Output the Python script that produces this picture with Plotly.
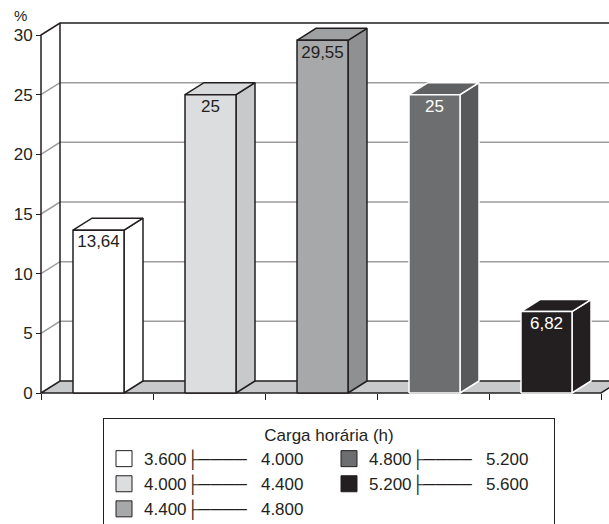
import plotly.graph_objects as go

# ---------------- data ----------------
classes = ["3.600", "4.000", "4.400", "4.800", "5.200", "5.600"]
percent = [13.64, 25, 29.55, 25, 6.82]
value_labels = ["13,64", "25", "29,55", "25", "6,82"]
y_ticks = [0, 5, 10, 15, 20, 25, 30]

# ---------------- styles ----------------
front_colors = ["#ffffff", "#dcdddf", "#a7a8aa", "#6d6e70", "#231f20"]
top_colors = ["#ffffff", "#d8d9db", "#9fa0a2", "#606163", "#231f20"]
side_colors = ["#ffffff", "#c8c9cb", "#8f9092", "#58595b", "#231f20"]
edge_colors = ["#231f20", "#231f20", "#231f20", "#ffffff", "#ffffff"]
label_colors = ["#231f20", "#231f20", "#231f20", "#ffffff", "#ffffff"]
DARK = "#231f20"
GRID = "#9d9d9d"
FLOOR = "#c8c9cb"
FONT = "Liberation Sans, Arial, sans-serif"

W, H = 609, 524
ML, MR, MT, MB = 38, 0, 8, 128
PX_X = 112.0            # pixels per category
PX_Y = 358.0 / 30.0     # pixels per percent
DX = 19.0 / PX_X        # depth offset (x units)
DY = 12.0 / PX_Y        # depth offset (y units)
BAR_OFF = 32.0 / PX_X
BAR_W = 51.0 / PX_X
plot_w = W - ML - MR
plot_h = H - MT - MB
x0 = -0.5 - 3.0 / PX_X
y0 = -3.0 / PX_Y
xr = [x0, x0 + plot_w / PX_X]
yr = [y0, y0 + plot_h / PX_Y]

n = len(percent)
ymax = max(y_ticks)
XR_END = xr[1] + 1


def paper_x(px):
    return (px - ML) / plot_w


def paper_y(py):
    return (MT + plot_h - py) / plot_h


fig = go.Figure()

# back & side wall gridlines
gx, gy = [], []
for v in y_ticks[1:-1]:
    gx += [-0.5, -0.5 + DX, XR_END, None]
    gy += [v, v + DY, v + DY, None]
fig.add_trace(go.Scatter(x=gx, y=gy, mode="lines", line=dict(color=GRID, width=1.5),
                         hoverinfo="skip", showlegend=False))

# wall outline
wx = [-0.5, -0.5, -0.5 + DX, XR_END, None, -0.5 + DX, -0.5 + DX]
wy = [0, ymax, ymax + DY, ymax + DY, None, DY, ymax + DY]
fig.add_trace(go.Scatter(x=wx, y=wy, mode="lines", line=dict(color=DARK, width=1.5),
                         hoverinfo="skip", showlegend=False))

# floor
fx = [-0.5, n - 0.5, n - 0.5 + DX, -0.5 + DX, -0.5]
fy = [0, 0, DY, DY, 0]
fig.add_trace(go.Scatter(x=fx, y=fy, mode="lines", fill="toself", fillcolor=FLOOR,
                         line=dict(color=DARK, width=1.5), hoverinfo="skip", showlegend=False))

# 3D bars
for i, v in enumerate(percent):
    xl = i - 0.5 + BAR_OFF
    xrgt = xl + BAR_W
    faces = [
        ([xrgt, xrgt + DX, xrgt + DX, xrgt, xrgt], [0, DY, v + DY, v, 0], side_colors[i]),
        ([xl, xrgt, xrgt + DX, xl + DX, xl], [v, v, v + DY, v + DY, v], top_colors[i]),
        ([xl, xrgt, xrgt, xl, xl], [0, 0, v, v, 0], front_colors[i]),
    ]
    for px, py, col in faces:
        fig.add_trace(go.Scatter(x=px, y=py, mode="lines", fill="toself", fillcolor=col,
                                 line=dict(color=edge_colors[i], width=1.5),
                                 hoverinfo="skip", showlegend=False))

# value labels
for i, v in enumerate(percent):
    xc = i - 0.5 + BAR_OFF + BAR_W / 2
    fig.add_trace(go.Scatter(x=[xc], y=[v - 13.0 / PX_Y], mode="text", text=[value_labels[i]],
                             textposition="middle center",
                             textfont=dict(family=FONT, size=17, color=label_colors[i]),
                             hoverinfo="skip", showlegend=False))

# legend entries
NB = "\u00a0"
ranks = [1, 3, 5, 2, 4]
for i in range(n):
    name = classes[i] + "\u251c" + "\u2500" * 4 + NB * 3 + classes[i + 1]
    fig.add_trace(go.Scatter(x=[None], y=[None], mode="markers", name=name,
                             marker=dict(symbol="square", size=16, color=front_colors[i],
                                         line=dict(color=DARK, width=1)),
                             legendrank=ranks[i], showlegend=True))

fig.add_annotation(x=paper_x(20), y=paper_y(15), xref="paper", yref="paper",
                   xanchor="center", yanchor="middle", text="%", showarrow=False,
                   font=dict(family=FONT, size=15, color=DARK))

fig.update_layout(
    width=W, height=H,
    margin=dict(l=ML, r=MR, t=MT, b=MB, autoexpand=False),
    paper_bgcolor="white", plot_bgcolor="white",
    font=dict(family=FONT, size=17, color=DARK),
    xaxis=dict(range=xr, showgrid=False, zeroline=False, showline=False,
               tickvals=[k - 0.5 for k in range(n + 1)], showticklabels=False,
               ticks="outside", ticklen=6, tickwidth=1, tickcolor=DARK,
               anchor="free", position=3.0 / plot_h, fixedrange=True),
    yaxis=dict(range=yr, showgrid=False, zeroline=False, showline=False,
               tickvals=y_ticks, ticktext=[str(t) for t in y_ticks],
               ticks="outside", ticklen=5, tickwidth=1, tickcolor=DARK,
               tickfont=dict(family=FONT, size=17, color=DARK),
               anchor="free", position=3.0 / plot_w, fixedrange=True),
    showlegend=True,
    legend=dict(orientation="h", x=paper_x(103), xanchor="left",
                y=paper_y(418), yanchor="top",
                entrywidth=180, entrywidthmode="pixels",
                bordercolor=DARK, borderwidth=1, bgcolor="white",
                font=dict(family=FONT, size=17, color=DARK),
                title=dict(text="Carga horária (h)", side="top center",
                           font=dict(family=FONT, size=17, color=DARK)),
                tracegroupgap=0),
)

fig.write_html("out.html")
